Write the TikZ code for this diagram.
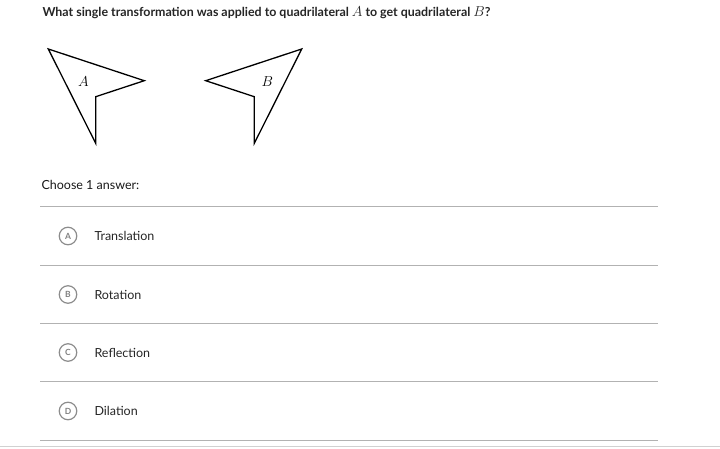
\documentclass[tikz,border=0pt]{standalone}
\usepackage{fontspec}
\setmainfont{Lato}
\usepackage{amsmath}
\begin{document}
\begin{tikzpicture}[x=1pt,y=-1pt,
  quad/.style={draw=black,line width=1.3pt,line join=miter},
  sep/.style={draw=black!30,line width=0.9pt},
  choice/.style={circle,draw=black!45,line width=1.2pt,minimum size=17.5pt,inner sep=0pt,font=\fontsize{8.5}{9}\selectfont\bfseries,text=black!50},
  opt/.style={anchor=west,font=\fontsize{12.5}{14}\selectfont,text=black!85},
  lbl/.style={font=\fontsize{13.5}{15}\selectfont}]
\useasboundingbox (0,0) rectangle (720,449);
\fill[white] (0,0) rectangle (720,449);
\node[anchor=west,font=\fontsize{12.4}{15}\selectfont\bfseries,text=black!85] (title) at (39,13) {What single transformation was applied to quadrilateral {\fontsize{13.5}{15}\selectfont$A$} to get quadrilateral {\fontsize{13.5}{15}\selectfont$B$}?};
% quadrilateral A
\coordinate (a1) at (48.3,49);
\coordinate (a2) at (144.3,80.7);
\coordinate (a3) at (95.7,96.7);
\coordinate (a4) at (95.7,143.3);
\draw[quad] (a1) -- (a2) -- (a3) -- (a4) -- cycle;
\node[lbl] (la) at (83.3,81.5) {$A$};
% quadrilateral B
\coordinate (b1) at (301.7,49);
\coordinate (b2) at (205.7,80.7);
\coordinate (b3) at (254.3,96.7);
\coordinate (b4) at (254.3,143.3);
\draw[quad] (b1) -- (b2) -- (b3) -- (b4) -- cycle;
\node[lbl] (lb) at (267.3,81.5) {$B$};
\node[anchor=west,font=\fontsize{12.5}{14}\selectfont,text=black!90] (choose) at (38,185) {Choose 1 answer:};
% separators
\foreach \y/\n in {206/s0,265/s1,323/s2,381/s3,440/s4}{
  \coordinate (\n l) at (40,\y);
  \coordinate (\n r) at (658,\y);
  \draw[sep] (\n l) -- (\n r);
}
\coordinate (bl) at (0,446.5);
\coordinate (br) at (720,446.5);
\draw[draw=black!18,line width=1pt] (bl) -- (br);
% choices
\node[choice] (cA) at (68,236) {A};
\node[opt] (tA) at (91,236) {Translation};
\node[choice] (cB) at (68,294.5) {B};
\node[opt] (tB) at (91,294.5) {Rotation};
\node[choice] (cC) at (68,352.5) {C};
\node[opt] (tC) at (91,352.5) {Reflection};
\node[choice] (cD) at (68,411) {D};
\node[opt] (tD) at (91,411) {Dilation};
\end{tikzpicture}
\end{document}
